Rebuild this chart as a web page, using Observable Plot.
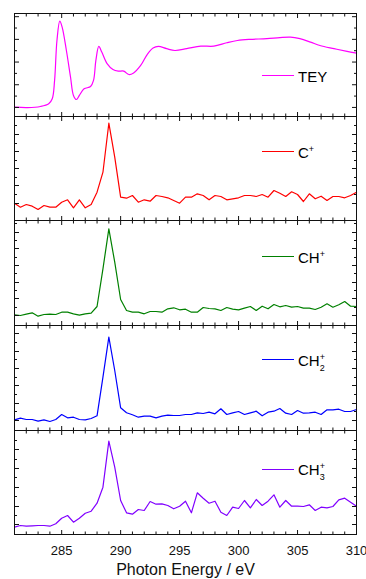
<!DOCTYPE html>
<html>
<head>
<meta charset="utf-8">
<script src="https://cdn.jsdelivr.net/npm/d3@7"></script>
<script src="https://cdn.jsdelivr.net/npm/@observablehq/plot@0.6"></script>
<style>
  body { margin: 0; background: #fff; font-family: "Liberation Sans", Arial, sans-serif; }
  #wrap { position: relative; width: 366px; height: 579px; overflow: hidden; background: #fff; }
  #wrap svg { position: absolute; left: 0; }
  .legline { position: absolute; height: 0; border-top: 1.3px solid; width: 32px; }
  .leglab { position: absolute; font-size: 15px; line-height: 15px; color: #000; white-space: nowrap; }
  .ss { position: relative; display: inline-block; width: 6px; height: 15px; vertical-align: top; }
  .ss .p, .ss .n { position: absolute; left: 0; font-size: 9px; line-height: 9px; }
  .ss .p { top: 0px; }
  .ss .n { top: 11px; }
</style>
</head>
<body>
<div id="wrap"></div>
<script>
// ---- data ----
const seriesNames = ["TEY", "C+", "CH+", "CH2+", "CH3+"];
const labelBase = ["TEY", "C", "CH", "CH", "CH"];
const labelSup = ["", "+", "+", "+", "+"];
const labelSub = ["", "", "", "2", "3"];
const colors = ["#ff00ff", "#ff0000", "#008000", "#0000ff", "#8000ff"];

// TEY spectrum (smooth)
const teyEnergy = [281.0,282.1,283.2,283.9,284.2,284.4,284.6,284.84,285.04,285.4,285.75,286.0,286.25,286.5,286.9,287.45,287.7,287.9,288.15,288.4,288.85,289.35,289.8,290.26,290.7,291.1,291.7,292.25,292.75,293.2,293.9,294.6,295.6,296.8,297.9,299.0,299.9,301.0,302.4,303.5,304.4,305.2,306.1,306.9,308.1,309.2,310.0];
const teyValue = [0.01,-0.01,0.04,0.16,0.38,1.19,2.95,3.80,3.54,2.51,1.34,0.53,0.35,0.53,0.82,0.92,1.19,2.07,2.69,2.44,1.93,1.67,1.60,1.60,1.45,1.52,1.85,2.33,2.62,2.69,2.59,2.51,2.59,2.70,2.70,2.85,2.95,3.00,3.03,3.08,3.10,3.03,2.88,2.73,2.59,2.47,2.39];

// ion yield scans (0.5 eV steps)
const ionEnergy = [281,281.5,282,282.5,283,283.5,284,284.5,285,285.5,286,286.5,287,287.5,288,288.5,289,289.5,290,290.5,291,291.5,292,292.5,293,293.5,294,294.5,295,295.5,296,296.5,297,297.5,298,298.5,299,299.5,300,300.5,301,301.5,302,302.5,303,303.5,304,304.5,305,305.5,306,306.5,307,307.5,308,308.5,309,309.5,310];
const cPlus = [17.3,13.3,16,14.3,11,15,13.3,13.3,18.3,20.7,12.7,20.7,12.7,16,28.3,48.3,97.3,63.3,23.3,22.3,25,18.3,20.7,19.3,25,24,22.7,20,17.3,23.3,23.3,26.7,25,20.7,25,24,20.7,21.7,22.7,25,25,24,26,23.3,30,27.3,24,28.7,26,19,26.7,21.7,24.3,20,24,24,22.7,25,28.3];
const chPlus = [10.7,10,11.3,12.7,9.3,11,11.3,11,13.3,13.3,11.7,10.3,11.7,12.3,19,56.7,96.7,63.3,26,15,13.3,13.3,11.7,14,14,13.3,16.7,17.7,15.7,16.3,13.3,13.3,18,17,16.7,15,18,16.3,15.7,17.3,19,15,19.3,16.7,21,18.7,20,18.3,19,17.3,17.3,16,18.3,21.7,18.3,20.7,24,19.3,19];
const ch2Plus = [10.7,12.3,11,11,9.3,10.7,9,11,16,12.7,13.3,11,10.7,12,14.7,53.3,93.3,60,22.7,17.7,15.7,13.3,14.3,14.3,12.7,14.3,15.3,15,15,16,16,17.7,17,18.3,16.7,21.7,16,17.7,19,16,17.7,19.3,14.7,18.3,19.3,22,17.3,16,20,17.3,17.7,18.3,16,20.7,20.7,21.3,19,19,21];
const ch3Plus = [7.3,9,8.3,8.7,9,9,8.3,10.7,16.3,19,12.3,16.3,21.3,23.3,31.3,47.3,93.3,67.3,34,21.7,20.3,25,24,33,30.3,30.7,29,25.7,28.3,33.3,21.7,41.7,36.3,31.3,33.3,22.3,19,27.3,26,34,26.7,35,29,33.3,39.7,27.3,34,28.3,28.3,28,29.7,24,27.3,26.7,28,34.7,36.3,32.3,28.3];

// axes
const xDomain = [281, 310];
const xMajor = [285, 290, 295, 300, 305, 310];
const xMinor = [282,283,284,286,287,288,289,291,292,293,294,296,297,298,299,301,302,303,304,306,307,308,309];
const xTickLabels = ["285", "290", "295", "300", "305", "310"];
const xTitle = "Photon Energy / eV";
const yDomains = [[-0.4, 4.14], [0, 104], [0, 105], [0, 105], [0, 104]];
const yMajor = [[0,1,2,3,4],[17,35,52,69,86],[10,27,43,60,77,93],[10,27,45,62,79,97],[10,28,47,66,85]];
const yMinor = [[0.5,1.5,2.5,3.5],[26,43,60,77,95],[18,35,52,68,85,102],[19,36,53,71,88],[19,38,57,75,94]];

// ---- layout ----
const W = 366, ML = 14, MR = 10;
const tops = [13, 116, 220, 325, 430];
const bottoms = [116, 220, 325, 430, 534];
const legendDy = [62.5, 35.7, 36.7, 35, 39.3];

const wrap = document.getElementById("wrap");
const seriesData = [
  teyEnergy.map((e, j) => ({x: e, y: teyValue[j]})),
  ionEnergy.map((e, j) => ({x: e, y: cPlus[j]})),
  ionEnergy.map((e, j) => ({x: e, y: chPlus[j]})),
  ionEnergy.map((e, j) => ({x: e, y: ch2Plus[j]})),
  ionEnergy.map((e, j) => ({x: e, y: ch3Plus[j]}))
];

for (let i = 0; i < 5; i++) {
  const last = i === 4;
  const mt = 4, mb = last ? 45 : 4;
  const h = bottoms[i] - tops[i];
  const marks = [
    Plot.line(seriesData[i], {x: "x", y: "y", stroke: colors[i], strokeWidth: 1.2, curve: i === 0 ? "catmull-rom" : "linear"}),
    Plot.frame({stroke: "#111", strokeWidth: 1}),
    Plot.axisX({anchor: "top", ticks: xMajor, tickSize: -4, fill: "none", label: null}),
    Plot.axisX({anchor: "top", ticks: xMinor, tickSize: -2.5, fill: "none", label: null}),
    Plot.axisX({anchor: "bottom", ticks: xMajor, tickSize: -4, fill: "none", label: null}),
    Plot.axisX({anchor: "bottom", ticks: xMinor, tickSize: -2.5, fill: "none", label: null}),
    Plot.axisY({anchor: "left", ticks: yMajor[i], tickSize: -5, fill: "none", label: null}),
    Plot.axisY({anchor: "left", ticks: yMinor[i], tickSize: -3, fill: "none", label: null}),
    Plot.axisY({anchor: "right", ticks: yMajor[i], tickSize: -5, fill: "none", label: null}),
    Plot.axisY({anchor: "right", ticks: yMinor[i], tickSize: -3, fill: "none", label: null})
  ];
  if (last) {
    marks.push(Plot.axisX({anchor: "bottom", ticks: xMajor, tickSize: 0, tickPadding: 11, tickFormat: (d) => xTickLabels[xMajor.indexOf(d)], fontSize: 13, label: null}));
    marks.push(Plot.text([xTitle], {text: (d) => d, frameAnchor: "bottom", lineAnchor: "bottom", dy: 40, fontSize: 16, fill: "#111"}));
  }
  const svg = Plot.plot({
    width: W, height: h + mt + mb,
    marginLeft: ML, marginRight: MR, marginTop: mt, marginBottom: mb,
    x: {domain: xDomain},
    y: {domain: yDomains[i]},
    style: {background: "transparent", overflow: "visible", fontFamily: "'Liberation Sans', Arial, sans-serif", color: "#111"},
    marks
  });
  svg.style.top = (tops[i] - mt) + "px";
  wrap.appendChild(svg);

  // legend
  const ly = tops[i] + legendDy[i];
  const line = document.createElement("div");
  line.className = "legline";
  line.style.left = "262px";
  line.style.top = (ly - 0.65) + "px";
  line.style.borderColor = colors[i];
  wrap.appendChild(line);
  const lab = document.createElement("div");
  lab.className = "leglab";
  lab.style.left = "298px";
  lab.style.top = (ly - 6.85) + "px";
  lab.appendChild(document.createTextNode(labelBase[i]));
  if (labelSup[i] || labelSub[i]) {
    const ss = document.createElement("span");
    ss.className = "ss";
    if (labelSup[i]) { const p = document.createElement("span"); p.className = "p"; p.textContent = labelSup[i]; ss.appendChild(p); }
    if (labelSub[i]) { const n = document.createElement("span"); n.className = "n"; n.textContent = labelSub[i]; ss.appendChild(n); }
    lab.appendChild(ss);
  }
  wrap.appendChild(lab);
}
</script>
</body>
</html>
